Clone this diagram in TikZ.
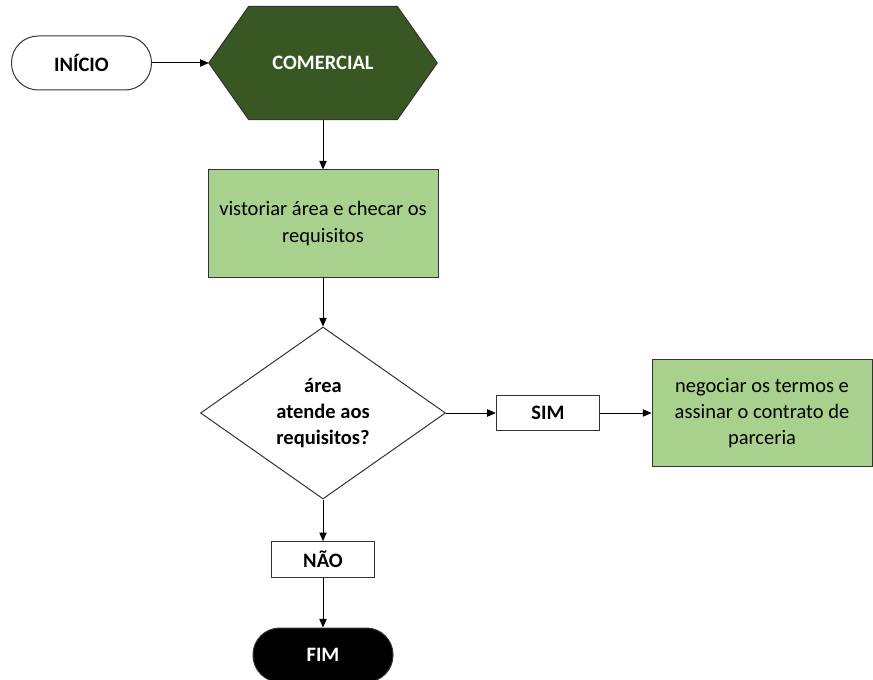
\documentclass[tikz,border=0pt]{standalone}
\usepackage{fontspec}
\setmainfont{Carlito}
\usetikzlibrary{arrows.meta,shapes.geometric,backgrounds}

\definecolor{comGreen}{HTML}{385723}
\definecolor{taskGreen}{HTML}{A9D18E}

\begin{document}
\begin{tikzpicture}[
        terminalNode/.style={
            rectangle,
            draw=black!80,
            line width=0.85pt,
            rounded corners=0.8cm,
            minimum width=4.2cm,
            minimum height=1.62cm,
            font=\fontsize{17.5}{21.5}\selectfont\bfseries
        },
        taskNode/.style={
            rectangle,
            draw=black!80,
            fill=taskGreen,
            line width=0.85pt,
            minimum width=6.9cm,
            minimum height=3.21cm,
            align=center,
            font=\fontsize{17.5}{22.5}\selectfont
        },
        answerNode/.style={
            rectangle,
            draw=black!80,
            line width=0.85pt,
            minimum width=3.1cm,
            minimum height=1.07cm,
            font=\fontsize{17.5}{21.5}\selectfont\bfseries
        },
        line/.style={
            line width=0.85pt,
            -{Triangle[length=0.26cm,width=0.22cm]}
        }
    ]
        \useasboundingbox (0,0) rectangle (26.19,20.37);

        \node[terminalNode] (inicio) at (2.445,18.48) {INÍCIO};

        \node[minimum width=6.84cm, minimum height=3.39cm, inner sep=0,
              text=white, font=\fontsize{17.5}{21.5}\selectfont\bfseries]
              (comercial) at (9.69,18.48) {COMERCIAL};
        \begin{pgfonlayer}{background}
            \filldraw[fill=comGreen, draw=black!80, line width=0.85pt]
                (comercial.west) -- ([xshift=1.2cm]comercial.north west)
                -- ([xshift=-1.2cm]comercial.north east) -- (comercial.east)
                -- ([xshift=-1.2cm]comercial.south east)
                -- ([xshift=1.2cm]comercial.south west) -- cycle;
        \end{pgfonlayer}

        \node[taskNode] (vistoriar) at (9.69,13.665) {vistoriar área e checar os\\requisitos};

        \node[diamond, draw=black!80, line width=0.85pt, aspect=1.42, inner sep=0,
              minimum width=7.35cm, minimum height=5.16cm, align=center,
              font=\fontsize{17.5}{22.5}\selectfont\bfseries]
              (decisao) at (9.69,7.98) {área\\atende aos\\requisitos?};

        \node[answerNode] (sim) at (16.44,7.98) {SIM};
        \node[taskNode, minimum width=6.6cm] (negociar) at (22.86,7.98)
              {negociar os termos e\\assinar o contrato de\\parceria};

        \node[answerNode] (nao) at (9.69,3.585) {NÃO};
        \node[terminalNode, fill=black, text=white] (fim) at (9.69,0.72) {FIM};

        \draw[line] (inicio) -- (comercial.west);
        \draw[line] (comercial.south) -- (vistoriar);
        \draw[line] (vistoriar) -- (decisao);
        \draw[line] (decisao) -- (sim);
        \draw[line] (sim) -- (negociar);
        \draw[line] (decisao) -- (nao);
        \draw[line] (nao) -- (fim);

    \end{tikzpicture}
\end{document}
